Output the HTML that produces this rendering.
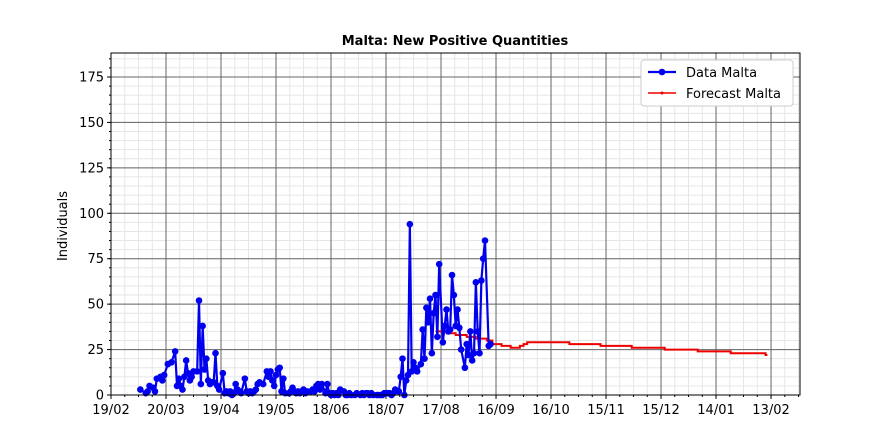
<!DOCTYPE html>
<html><head><meta charset="utf-8"><style>
body{margin:0;background:#fff;}
svg{display:block;font-family:"DejaVu Sans","Liberation Sans",sans-serif;}
</style></head><body>
<svg id="chart" width="888" height="444"></svg>
<script>
const dataDays=[16,19,20,21,23,24,25,27,28,29,31,33,35,36,37,38,39,40,41,42,43,44,45,47,48,49,50,51,52,53,54,55,56,57,58,59,61,62,63,64,65,66,67,68,69,70,71,73,74,75,76,77,78,79,80,81,83,85,86,87,88,89,90,91,92,93,94,95,97,98,99,100,101,102,103,104,105,106,107,109,110,111,112,113,114,115,117,118,119,120,121,122,123,124,125,127,128,129,130,131,133,134,136,137,138,139,140,141,142,143,145,146,147,148,149,150,151,152,153,154,155,157,158,159,160,161,162,163,164,165,166,167,169,170,171,172,173,174,175,176,177,178,179,181,182,183,184,185,186,187,188,189,190,191,193,194,195,196,197,198,199,200,201,202,203,204,206,207];
const dataVals=[3,1,2,5,4,2,9,10,8,11,17,18,24,5,9,5,3,10,19,12,8,10,13,13,52,6,38,14,20,8,6,7,7,23,5,3,12,1,2,1,2,0,1,6,3,2,1,9,2,1,2,1,2,3,6,7,6,13,10,13,8,5,11,14,15,2,9,1,1,2,4,2,1,2,1,2,3,1,2,2,3,2,5,6,3,6,1,6,1,0,1,0,1,0,3,2,0,0,1,0,0,1,0,1,0,1,1,0,1,0,0,0,0,0,1,1,1,1,0,1,3,2,10,20,0,8,11,94,13,18,15,13,17,36,20,48,40,53,23,45,55,32,72,29,38,47,35,36,66,55,38,47,37,25,15,28,22,35,19,23,62,35,23,63,75,85,27,28];
const fcDays=[177,183,188,194,199,205,208,213,218,223,225,227,250,267,284,302,320,338,357,358];
const fcVals=[35,34,33,32,31,30,28,27,26,27,28,29,28,27,26,25,24,23,22,22];
const xTickLabels=["19/02","20/03","19/04","19/05","18/06","18/07","17/08","16/09","16/10","15/11","15/12","14/01","13/02"];
const xTickDays=[0,30,60,90,120,150,180,210,240,270,300,330,360];
const yTicks=[0,25,50,75,100,125,150,175];

const NS="http://www.w3.org/2000/svg";
const svg=document.getElementById('chart');
const L=111,R=800,T=53,B=395,XMAX=375.8,YMAX=188.2;
const xs=d=>L+d*(R-L)/XMAX;
const ys=v=>B-v*(B-T)/YMAX;
function el(tag,a,parent){const e=document.createElementNS(NS,tag);for(const k in a)e.setAttribute(k,a[k]);(parent||svg).appendChild(e);return e;}

const grid=el('g',{});


for(let d=0;d<=XMAX;d+=7.5){el('line',{x1:xs(d),x2:xs(d),y1:T,y2:B,stroke:'#e6e6e6','stroke-width':1},grid);}
for(let v=0;v<=YMAX;v+=5){el('line',{x1:L,x2:R,y1:ys(v),y2:ys(v),stroke:'#e6e6e6','stroke-width':1},grid);}
xTickDays.forEach(d=>el('line',{x1:xs(d),x2:xs(d),y1:T,y2:B,stroke:'#666','stroke-width':1},grid));
yTicks.forEach(v=>el('line',{x1:L,x2:R,y1:ys(v),y2:ys(v),stroke:'#666','stroke-width':1},grid));

for(let d=0;d<=XMAX;d+=7.5){el('line',{x1:xs(d),x2:xs(d),y1:B,y2:B+2,stroke:'#000'});}
for(let v=0;v<=YMAX;v+=5){el('line',{x1:L-2,x2:L,y1:ys(v),y2:ys(v),stroke:'#000'});}
xTickDays.forEach((d,i)=>{
  el('line',{x1:xs(d),x2:xs(d),y1:B,y2:B+4,stroke:'#000'});
  const t=el('text',{x:xs(d),y:B+19,'text-anchor':'middle','font-size':13});
  t.textContent=xTickLabels[i];
  
  
});
yTicks.forEach(v=>{
  el('line',{x1:L-4,x2:L,y1:ys(v),y2:ys(v),stroke:'#000'});
  const t=el('text',{x:L-7,y:ys(v)+4.5,'text-anchor':'end','font-size':13});
  t.textContent=v;
  
  
});

let fp='';
fcDays.forEach((d,i)=>{
  if(i===0)fp+='M'+xs(d)+','+ys(fcVals[i]);
  else fp+='H'+xs(d)+'V'+ys(fcVals[i]);
});
const fl=el('path',{d:fp,fill:'none',stroke:'#e00','stroke-width':2});



const n=Math.min(dataDays.length,dataVals.length);
let dp='';
for(let i=0;i<n;i++){dp+=(i?'L':'M')+xs(dataDays[i])+','+ys(dataVals[i]);}
const dl=el('path',{d:dp,fill:'none',stroke:'#0000ee','stroke-width':2.2,'stroke-linejoin':'round'});


for(let i=0;i<n;i++){
  const c=el('circle',{cx:xs(dataDays[i]),cy:ys(dataVals[i]),r:3.3,fill:'#0000ee'});
  
  
}

const fr=el('rect',{x:L,y:T,width:R-L,height:B-T,fill:'none',stroke:'#000','stroke-width':1});



const title=el('text',{x:455,y:45,'text-anchor':'middle','font-size':13,'font-weight':'bold'});
title.textContent='Malta: New Positive Quantities';


const yt=el('text',{x:0,y:0,'text-anchor':'middle','font-size':13,transform:'translate(67,226) rotate(-90)'});
yt.textContent='Individuals';



const lg=el('g',{});


el('rect',{x:641,y:60,width:152,height:46,rx:3,fill:'#fff',stroke:'#ccc'},lg);
el('line',{x1:648,x2:676,y1:72,y2:72,stroke:'#0000ee','stroke-width':2.2},lg);
el('circle',{cx:662,cy:72,r:3.3,fill:'#0000ee'},lg);
const t1=el('text',{x:686,y:77,'font-size':13},lg);t1.textContent='Data Malta';


el('line',{x1:648,x2:676,y1:93,y2:93,stroke:'#e00','stroke-width':1.5},lg);
el('circle',{cx:662,cy:93,r:1.5,fill:'#e00'},lg);
const t2=el('text',{x:686,y:98,'font-size':13},lg);t2.textContent='Forecast Malta';


</script>
</body></html>
